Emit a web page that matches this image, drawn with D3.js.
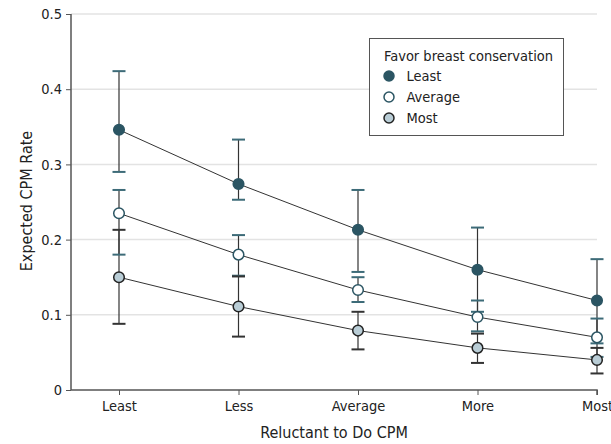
<!DOCTYPE html>
<html>
<head>
<meta charset="utf-8">
<script src="https://cdn.jsdelivr.net/npm/d3@7"></script>
<style>
  body { margin: 0; background: #fff; }
  text { font-family: "DejaVu Sans Condensed", "DejaVu Sans", sans-serif; fill: #222; }
</style>
</head>
<body>
<script>
// categories on the x axis and the three groups
var categories = ["Least", "Less", "Average", "More", "Most"];
var groups = ["Least", "Average", "Most"];
var yTicks = [0, 0.1, 0.2, 0.3, 0.4, 0.5];

// estimated values
var leastMean  = [0.346, 0.274, 0.213, 0.160, 0.119];
var leastLow   = [0.290, 0.253, 0.157, 0.104, 0.062];
var leastHigh  = [0.424, 0.333, 0.266, 0.216, 0.174];

var averageMean = [0.235, 0.180, 0.133, 0.097, 0.070];
var averageLow  = [0.180, 0.152, 0.117, 0.078, 0.044];
var averageHigh = [0.266, 0.206, 0.150, 0.119, 0.095];

var mostMean = [0.150, 0.111, 0.079, 0.056, 0.040];
var mostLow  = [0.088, 0.071, 0.054, 0.036, 0.022];
var mostHigh = [0.213, 0.151, 0.104, 0.075, 0.056];

var series = [
  {name: groups[0], mean: leastMean,   low: leastLow,   high: leastHigh,   fill: "#2b5563", stroke: "#2b5563", cap: "#3d6b78"},
  {name: groups[1], mean: averageMean, low: averageLow, high: averageHigh, fill: "#ffffff", stroke: "#2b5563", cap: "#3d6b78"},
  {name: groups[2], mean: mostMean,    low: mostLow,    high: mostHigh,    fill: "#b9cdd6", stroke: "#222222", cap: "#333333"}
];

var width = 611, height = 444;
var margin = {top: 14, right: 14, bottom: 54, left: 71};

var svg = d3.select("body").append("svg")
    .attr("width", width)
    .attr("height", height);

var x = d3.scalePoint()
    .domain(categories)
    .range([119, 597]);

var y = d3.scaleLinear()
    .domain([0, 0.5])
    .range([height - margin.bottom, margin.top]);

var x0 = margin.left, x1 = 597;

// gridlines
svg.append("g")
  .selectAll("line")
  .data(yTicks.slice(1))
  .enter().append("line")
    .attr("x1", x0).attr("x2", x1)
    .attr("y1", function(d) { return y(d); })
    .attr("y2", function(d) { return y(d); })
    .attr("stroke", "#e3e3e3")
    .attr("stroke-width", 1.5);

// y axis
var yAxis = svg.append("g")
    .attr("transform", "translate(" + x0 + ",0)")
    .call(d3.axisLeft(y).tickValues(yTicks).tickSize(5).tickPadding(4)
      .tickFormat(function(d) { return d === 0 ? "0" : d3.format(".1f")(d); }));
yAxis.select(".domain").attr("stroke", "#555").attr("stroke-width", 1.5).attr("d", "M0," + y(0.5) + "V" + y(0));
yAxis.selectAll(".tick line").attr("stroke", "#555");
yAxis.selectAll(".tick text").style("font-size", "14.5px");

// x axis
var xAxis = svg.append("g")
    .attr("transform", "translate(0," + y(0) + ")")
    .call(d3.axisBottom(x).tickSize(5).tickPadding(6));
xAxis.select(".domain").attr("stroke", "#555").attr("stroke-width", 1.5).attr("d", "M" + x0 + ",0H" + x1 + "V5");
xAxis.selectAll(".tick line").attr("stroke", "#555");
xAxis.selectAll(".tick text").style("font-size", "14.5px");

// axis titles
svg.append("text")
    .attr("x", 334)
    .attr("y", 438)
    .attr("text-anchor", "middle")
    .style("font-size", "16px")
    .text("Reluctant to Do CPM");

svg.append("text")
    .attr("transform", "translate(32," + 201 + ") rotate(-90)")
    .attr("text-anchor", "middle")
    .style("font-size", "16px")
    .text("Expected CPM Rate");

// error bar lines
series.forEach(function(s) {
  var g = svg.append("g");
  g.selectAll("line.err")
    .data(categories)
    .enter().append("line")
      .attr("class", "err")
      .attr("x1", function(d) { return x(d); })
      .attr("x2", function(d) { return x(d); })
      .attr("y1", function(d, i) { return y(s.low[i]); })
      .attr("y2", function(d, i) { return y(s.high[i]); })
      .attr("stroke", "#333")
      .attr("stroke-width", 1.2);
});

// caps
series.forEach(function(s) {
  var g = svg.append("g");
  ["low", "high"].forEach(function(k) {
    g.selectAll("line." + k)
      .data(categories)
      .enter().append("line")
        .attr("class", k)
        .attr("x1", function(d) { return x(d) - 6.5; })
        .attr("x2", function(d) { return x(d) + 6.5; })
        .attr("y1", function(d, i) { return y(s[k][i]); })
        .attr("y2", function(d, i) { return y(s[k][i]); })
        .attr("stroke", s.cap)
        .attr("stroke-width", 2);
  });
});

// connecting lines
var line = d3.line()
    .x(function(d, i) { return x(categories[i]); })
    .y(function(d) { return y(d); });

series.forEach(function(s) {
  svg.append("path")
      .datum(s.mean)
      .attr("d", line)
      .attr("fill", "none")
      .attr("stroke", "#333")
      .attr("stroke-width", 1);
});

// points
series.forEach(function(s) {
  svg.append("g")
    .selectAll("circle")
    .data(s.mean)
    .enter().append("circle")
      .attr("cx", function(d, i) { return x(categories[i]); })
      .attr("cy", function(d) { return y(d); })
      .attr("r", 5.3)
      .attr("fill", s.fill)
      .attr("stroke", s.stroke)
      .attr("stroke-width", 1.5);
});

// legend
var legend = svg.append("g").attr("transform", "translate(369,38)");
legend.append("rect")
    .attr("x", 0.5).attr("y", 0.5)
    .attr("width", 194).attr("height", 97)
    .attr("fill", "#fff")
    .attr("stroke", "#555")
    .attr("stroke-width", 1);
legend.append("text")
    .attr("x", 15).attr("y", 23)
    .style("font-size", "14.5px")
    .text("Favor breast conservation");

var item = legend.selectAll("g.item")
    .data(series)
    .enter().append("g")
      .attr("class", "item")
      .attr("transform", function(d, i) { return "translate(20," + (38 + i * 21) + ")"; });
item.append("circle")
    .attr("r", 5)
    .attr("fill", function(d) { return d.fill; })
    .attr("stroke", function(d) { return d.stroke; })
    .attr("stroke-width", 1.5);
item.append("text")
    .attr("x", 17.5).attr("y", 5)
    .style("font-size", "14.5px")
    .text(function(d) { return d.name; });
</script>
</body>
</html>
